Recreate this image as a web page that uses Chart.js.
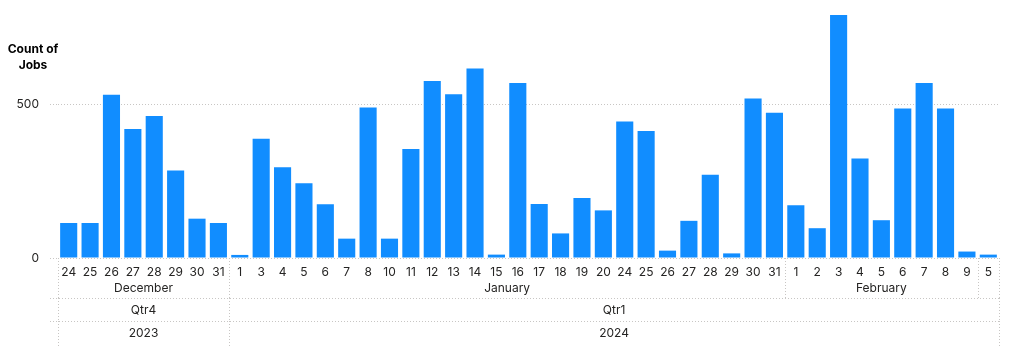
<!DOCTYPE html>
<html>
<head>
<meta charset="utf-8">
<script src="https://cdn.jsdelivr.net/npm/chart.js@4/dist/chart.umd.min.js"></script>
<style>
  html, body { margin: 0; padding: 0; background: #fff; }
  #wrap { position: relative; width: 1024px; height: 362px; }
  #c { position: absolute; left: 0; top: 0; }
  #ytitle { position: absolute; left: 0; top: 41px; width: 66px; text-align: center;
    font: bold 12px Inter, "Open Sans", sans-serif; line-height: 16px; color: #000; }
</style>
</head>
<body>
<div id="wrap">
  <canvas id="c" width="1024" height="362"></canvas>
  <div id="ytitle">Count of<br>Jobs</div>
</div>
<script>
// ---- Data ----
const days = ['24','25','26','27','28','29','30','31',
  '1','3','4','5','6','7','8','10','11','12','13','14','15','16','17','18','19','20',
  '24','25','26','27','28','29','30','31',
  '1','2','3','4','5','6','7','8','9',
  '5'];
const jobs = [114,114,531,420,462,285,128,114,
  10,388,295,243,175,63,490,63,355,576,533,617,11,570,176,80,195,155,
  444,413,24,121,271,15,519,473,
  172,97,791,324,123,487,570,487,21,
  11];
const monthNames = ['December','January','February','March'];
const monthSpans = [8,26,9,1];
const quarterNames = ['Qtr4','Qtr1'];
const quarterSpans = [8,36];
const yearNames = ['2023','2024'];
const yearSpans = [8,36];
const yTicks = [0,500];

const FONT = 'Inter, "Open Sans", sans-serif';
const TXT = '#252423';
const GRID = '#c8c6c4';

const groupPlugin = {
  id: 'groups',
  afterDraw(chart) {
    const ctx = chart.ctx;
    const xs = chart.scales.x;
    const n = days.length;
    const w = (xs.right - xs.left) / n;
    const bx = i => xs.left + i * w;
    const rows = [
      {names: monthNames, spans: monthSpans, y: 288, top: 258, bottom: 298},
      {names: quarterNames, spans: quarterSpans, y: 310.5, top: 298, bottom: 321},
      {names: yearNames, spans: yearSpans, y: 333, top: 321, bottom: 348}
    ];
    ctx.save();
    ctx.strokeStyle = GRID;
    ctx.lineWidth = 1;
    ctx.setLineDash([1, 2]);
    [298.5, 321.5].forEach(y => {
      ctx.beginPath(); ctx.moveTo(50, y); ctx.lineTo(xs.right, y); ctx.stroke();
    });
    ctx.font = '12px ' + FONT;
    ctx.fillStyle = TXT;
    ctx.textAlign = 'center';
    ctx.textBaseline = 'middle';
    rows.forEach(r => {
      let start = 0;
      const edges = [0];
      r.names.forEach((name, k) => {
        const end = start + r.spans[k];
        const x0 = bx(start), x1 = bx(end);
        if (ctx.measureText(name).width < x1 - x0 - 4) {
          ctx.fillText(name, (x0 + x1) / 2, r.y);
        }
        edges.push(end);
        start = end;
      });
      edges.forEach(e => {
        const x = Math.round(bx(e)) + 0.5;
        ctx.beginPath(); ctx.moveTo(x, r.top); ctx.lineTo(x, r.bottom); ctx.stroke();
      });
    });
    ctx.restore();
  }
};

new Chart(document.getElementById('c'), {
  type: 'bar',
  data: {
    labels: days,
    datasets: [{
      data: jobs,
      backgroundColor: '#118DFF',
      barPercentage: 0.8,
      categoryPercentage: 1.0
    }]
  },
  options: {
    responsive: false,
    animation: false,
    layout: { padding: { top: 15, right: 25, left: 0, bottom: 0 } },
    plugins: { legend: { display: false }, tooltip: { enabled: false } },
    scales: {
      x: {
        grid: { display: false, drawTicks: false },
        border: { display: false },
        ticks: { autoSkip: false, maxRotation: 0, padding: 7, color: TXT, font: { family: FONT, size: 12 } },
        afterFit: s => { s.height = 104; s.paddingLeft = 0; s.paddingRight = 0; }
      },
      y: {
        min: 0,
        max: Math.max(...jobs),
        afterBuildTicks: s => { s.ticks = yTicks.map(v => ({ value: v })); },
        grid: { color: GRID, drawTicks: true, tickLength: 8, tickColor: GRID, tickBorderDash: [1, 2] },
        border: { display: false, dash: [1, 2] },
        ticks: { padding: 11, color: TXT, font: { family: FONT, size: 12 } },
        afterFit: s => { s.width = 58; s.paddingTop = 0; s.paddingBottom = 0; }
      }
    }
  },
  plugins: [groupPlugin]
});
</script>
</body>
</html>
